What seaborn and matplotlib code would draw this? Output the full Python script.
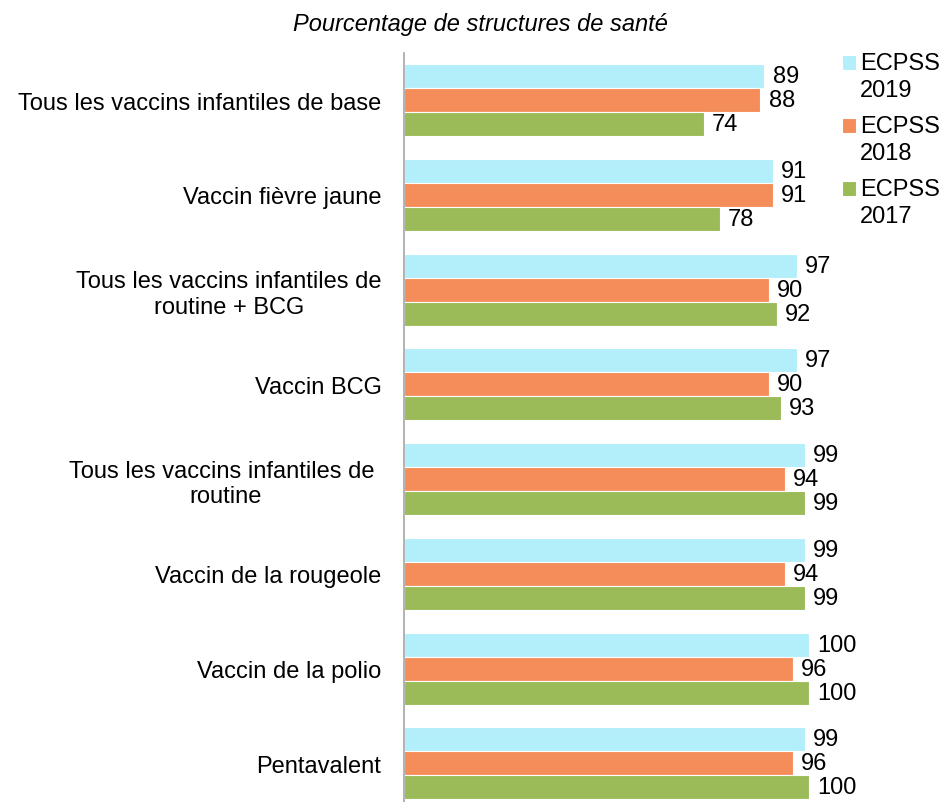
import matplotlib
matplotlib.use("Agg")
import matplotlib.pyplot as plt
import pandas as pd
import seaborn as sns

# Data
categories = ["Tous les vaccins infantiles de base",
              "Vaccin fièvre jaune",
              "Tous les vaccins infantiles de\nroutine + BCG",
              "Vaccin BCG",
              "Tous les vaccins infantiles de \nroutine",
              "Vaccin de la rougeole",
              "Vaccin de la polio",
              "Pentavalent"]
series = ["ECPSS\n2019", "ECPSS\n2018", "ECPSS\n2017"]
v2019 = [89, 91, 97, 97, 99, 99, 100, 99]
v2018 = [88, 91, 90, 90, 94, 94, 96, 96]
v2017 = [74, 78, 92, 93, 99, 99, 100, 100]
colors = ["#B3EFFB", "#F58D5A", "#9BBB59"]

df = pd.DataFrame({
    "cat": categories * 3,
    "serie": [series[0]] * 8 + [series[1]] * 8 + [series[2]] * 8,
    "value": v2019 + v2018 + v2017,
})

sns.set_style("white")
plt.rcParams['font.family'] = ['Liberation Sans', 'DejaVu Sans']
plt.rcParams['text.color'] = 'black'
plt.rcParams['ytick.color'] = 'black'

fig = plt.figure(figsize=(9.43, 8.03), dpi=100)
ax = fig.add_axes([0.428, -0.011, 0.43, 0.944])

sns.barplot(data=df, y="cat", x="value", hue="serie", order=categories,
            hue_order=series, palette=colors, saturation=1, orient="h",
            width=0.76, edgecolor="white", linewidth=0.8, ax=ax, legend=True)

for cont in ax.containers:
    ax.bar_label(cont, labels=[f"{v:.0f}" for v in cont.datavalues],
                 padding=6, fontsize=17, clip_on=False)

ax.set_xlim(0, 100)
ax.set_ylim(7.5, -0.5)
ax.set_xlabel("")
ax.set_ylabel("")
ax.set_xticks([])
ax.tick_params(axis="y", length=0, pad=16, labelsize=17, labelcolor="black")
for lbl in ax.get_yticklabels():
    lbl.set_multialignment("center")

for s in ["top", "right", "bottom"]:
    ax.spines[s].set_visible(False)
ax.spines["left"].set_color("#A6A6A6")
ax.spines["left"].set_linewidth(1.2)

handles, labels = ax.get_legend_handles_labels()
leg = ax.legend(handles, labels, loc="upper left", bbox_to_anchor=(0.893, 0.934),
                bbox_transform=fig.transFigure, frameon=False, fontsize=17,
                handlelength=0.6, handleheight=0.6, handletextpad=0.15,
                labelspacing=0.6, borderaxespad=0, borderpad=0)
for t in leg.get_texts():
    t.set_linespacing(1.28)
# square next to the first line of each label
for p in leg.get_patches():
    p.set_y(p.get_y() + 10)

fig.text(0.51, 0.969, "Pourcentage de structures de santé", ha="center",
         va="center", fontsize=17, style="italic")

fig.savefig("out.png", dpi=100)
